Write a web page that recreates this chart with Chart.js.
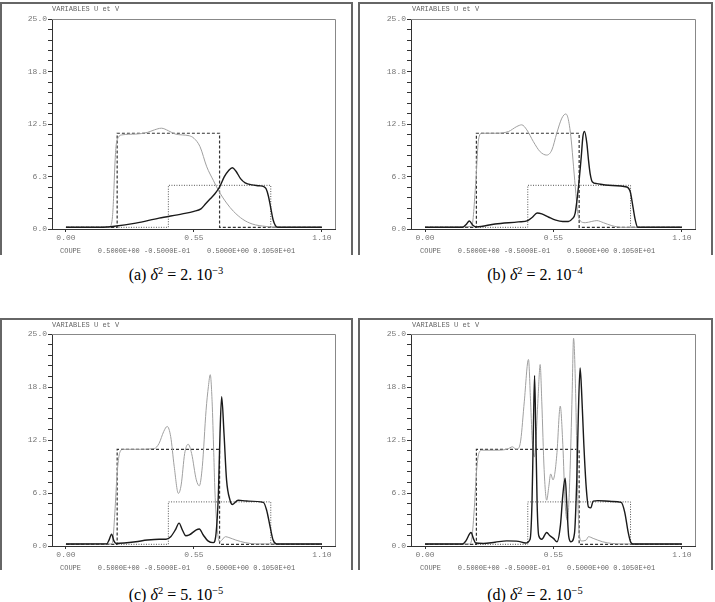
<!DOCTYPE html>
<html>
<head>
<meta charset="utf-8">
<script src="https://cdn.jsdelivr.net/npm/chart.js@4.4.1/dist/chart.umd.min.js"></script>
<style>
  body { margin: 0; background: #fff; width: 715px; height: 602px; position: relative; overflow: hidden; }
  .frame { position: absolute; border: 2px solid #666; border-bottom: none; box-sizing: border-box; }
  .cv { position: absolute; }
  .title, .footer { position: absolute; font-family: "Liberation Mono", monospace; font-size: 7px; color: #666; white-space: pre; }
  .caption { position: absolute; width: 200px; text-align: center; font-family: "Liberation Serif", serif; font-size: 16px; color: #000; line-height: 17px; }
  .caption sup { font-size: 10.5px; line-height: 0; }
</style>
</head>
<body>

<div class="frame" style="left:0;top:2px;width:353px;height:253px"></div>
<div class="frame" style="left:358px;top:2px;width:355px;height:253px"></div>
<div class="frame" style="left:0;top:318px;width:353px;height:252px"></div>
<div class="frame" style="left:358px;top:318px;width:355px;height:252px"></div>

<canvas id="chartA" class="cv" style="left:0;top:0" width="352" height="256"></canvas>
<canvas id="chartB" class="cv" style="left:359px;top:0" width="354" height="256"></canvas>
<canvas id="chartC" class="cv" style="left:0;top:316px" width="352" height="256"></canvas>
<canvas id="chartD" class="cv" style="left:359px;top:316px" width="354" height="256"></canvas>

<div class="title" style="left:52px;top:5px">VARIABLES U et V</div>
<div class="title" style="left:412px;top:5px">VARIABLES U et V</div>
<div class="title" style="left:52px;top:321px">VARIABLES U et V</div>
<div class="title" style="left:412px;top:321px">VARIABLES U et V</div>

<div class="footer" style="left:60px;top:247px">COUPE    0.5000E+00 -0.5000E-01    0.5000E+00 0.1050E+01</div>
<div class="footer" style="left:420px;top:247px">COUPE    0.5000E+00 -0.5000E-01    0.5000E+00 0.1050E+01</div>
<div class="footer" style="left:60px;top:564px">COUPE    0.5000E+00 -0.5000E-01    0.5000E+00 0.1050E+01</div>
<div class="footer" style="left:420px;top:564px">COUPE    0.5000E+00 -0.5000E-01    0.5000E+00 0.1050E+01</div>

<div class="caption" style="left:76px;top:266px">(a) <i>δ</i><sup>2</sup> = 2. 10<sup>−3</sup></div>
<div class="caption" style="left:435px;top:266px">(b) <i>δ</i><sup>2</sup> = 2. 10<sup>−4</sup></div>
<div class="caption" style="left:76px;top:586px">(c) <i>δ</i><sup>2</sup> = 5. 10<sup>−5</sup></div>
<div class="caption" style="left:435px;top:586px">(d) <i>δ</i><sup>2</sup> = 2. 10<sup>−5</sup></div>

<script>
// axis ticks
const xTickValues = [0, 0.55, 1.1];
const yMajorStep = 6.25;

// initial step profiles (same in every panel)
const vRectX = [0, 0.22, 0.66, 1.1];
const vRectY = [0.2, 11.4, 0.2, 0.2];
const uRectX = [0, 0.44, 0.88, 1.1];
const uRectY = [0.2, 5.2, 0.2, 0.2];

// (a) delta^2 = 2e-3
const uA_x = [0, 0.15, 0.18, 0.2, 0.3, 0.4, 0.5, 0.55, 0.58, 0.6, 0.62, 0.64, 0.66, 0.68, 0.7, 0.715, 0.73, 0.75, 0.77, 0.8, 0.83, 0.85, 0.86, 0.87, 0.88, 0.89, 0.9, 0.91, 1.1];
const uA_y = [0.2, 0.2, 0.25, 0.3, 0.7, 1.3, 1.8, 2.1, 2.4, 3.0, 3.6, 4.2, 5.0, 6.2, 7.0, 7.3, 6.9, 6.0, 5.5, 5.25, 5.15, 5.05, 4.8, 3.9, 2.5, 1.1, 0.4, 0.2, 0.2];
const vA_x = [0, 0.18, 0.19, 0.2, 0.205, 0.21, 0.215, 0.225, 0.24, 0.3, 0.35, 0.38, 0.41, 0.44, 0.47, 0.5, 0.53, 0.55, 0.576, 0.605, 0.633, 0.655, 0.69, 0.72, 0.76, 0.8, 0.86, 0.9, 1.1];
const vA_y = [0.2, 0.2, 0.3, 1.5, 4, 7.5, 9.8, 10.9, 11.2, 11.3, 11.5, 11.8, 12.0, 11.7, 11.3, 11.2, 11.1, 10.8, 9.8, 7.4, 5.8, 4.6, 3.1, 2.1, 1.15, 0.6, 0.3, 0.2, 0.2];

// (b) delta^2 = 2e-4
const uB_x = [0, 0.16, 0.175, 0.19, 0.205, 0.22, 0.3, 0.4, 0.44, 0.46, 0.48, 0.5, 0.53, 0.56, 0.59, 0.614, 0.63, 0.643, 0.657, 0.669, 0.676, 0.683, 0.693, 0.7, 0.707, 0.717, 0.736, 0.786, 0.864, 0.879, 0.89, 0.9, 0.911, 1.1];
const uB_y = [0.2, 0.2, 0.5, 0.95, 0.45, 0.25, 0.6, 0.85, 1.0, 1.4, 1.9, 1.8, 1.4, 1.05, 0.9, 0.9, 1.2, 1.9, 5.0, 8.6, 11.0, 11.6, 10.2, 8.2, 6.6, 5.6, 5.4, 5.2, 5.0, 4.4, 2.7, 1.1, 0.2, 0.2];
const vB_x = [0, 0.2, 0.217, 0.229, 0.243, 0.3, 0.357, 0.393, 0.414, 0.436, 0.464, 0.493, 0.521, 0.543, 0.564, 0.586, 0.603, 0.614, 0.626, 0.636, 0.646, 0.654, 0.664, 0.686, 0.714, 0.736, 0.764, 0.8, 0.843, 1.1];
const vB_y = [0.2, 0.3, 5.4, 10.6, 11.4, 11.4, 11.6, 12.2, 12.4, 11.8, 10.4, 9.2, 8.8, 9.4, 11.4, 13.2, 13.7, 13.0, 10.6, 7.4, 4.2, 1.9, 1.0, 0.75, 0.9, 1.0, 0.75, 0.4, 0.2, 0.2];

// (c) delta^2 = 5e-5
const uC_x = [0, 0.175, 0.185, 0.196, 0.206, 0.215, 0.25, 0.3, 0.35, 0.4, 0.43, 0.45, 0.47, 0.486, 0.5, 0.515, 0.53, 0.56, 0.573, 0.59, 0.61, 0.633, 0.645, 0.655, 0.662, 0.669, 0.679, 0.69, 0.705, 0.715, 0.74, 0.776, 0.848, 0.862, 0.877, 0.89, 0.905, 1.1];
const uC_y = [0.24, 0.25, 0.7, 1.4, 0.6, 0.3, 0.35, 0.5, 0.7, 0.8, 0.8, 1.1, 1.9, 2.7, 1.9, 1.2, 1.3, 1.9, 2.0, 1.3, 0.6, 0.4, 1.5, 6.2, 13.3, 17.6, 13.3, 7.8, 5.4, 4.9, 5.4, 5.3, 5.15, 4.25, 2.3, 0.7, 0.24, 0.24];
const vC_x = [0, 0.195, 0.2, 0.21, 0.22, 0.23, 0.245, 0.3, 0.38, 0.4, 0.42, 0.435, 0.45, 0.465, 0.483, 0.495, 0.51, 0.525, 0.54, 0.56, 0.573, 0.586, 0.602, 0.612, 0.62, 0.628, 0.635, 0.64, 0.65, 0.66, 0.67, 0.685, 0.7, 0.73, 0.77, 0.82, 1.1];
const vC_y = [0.24, 0.24, 0.4, 3.9, 8.6, 10.9, 11.4, 11.4, 11.5, 12.1, 13.5, 14.1, 12.9, 9.4, 6.2, 7.2, 10.9, 12.0, 10.9, 7.8, 7.1, 9.4, 16.0, 18.8, 20.2, 17.0, 11.0, 6.5, 2.0, 0.5, 0.7, 1.1, 1.0, 0.7, 0.4, 0.24, 0.24];

// (d) delta^2 = 2e-5
const uD_x = [0, 0.16, 0.175, 0.197, 0.207, 0.217, 0.25, 0.3, 0.35, 0.4, 0.43, 0.45, 0.458, 0.463, 0.469, 0.474, 0.48, 0.487, 0.5, 0.521, 0.535, 0.55, 0.565, 0.58, 0.59, 0.6, 0.607, 0.615, 0.625, 0.64, 0.65, 0.657, 0.664, 0.67, 0.68, 0.69, 0.7, 0.71, 0.72, 0.74, 0.8, 0.84, 0.855, 0.87, 0.88, 0.89, 1.1];
const uD_y = [0.24, 0.24, 0.6, 1.6, 0.9, 0.35, 0.3, 0.45, 0.6, 0.55, 0.35, 0.8, 5, 12, 20.1, 14, 5, 1.2, 0.8, 1.6, 1.2, 0.9, 0.5, 2.5, 6, 8.0, 5, 1.2, 0.5, 1.5, 8, 16, 21.0, 18.5, 12, 7, 4.6, 4.5, 5.3, 5.35, 5.25, 5.15, 4.0, 1.6, 0.5, 0.24, 0.24];
const vD_x = [0, 0.19, 0.2, 0.21, 0.22, 0.23, 0.245, 0.3, 0.35, 0.375, 0.39, 0.4, 0.41, 0.425, 0.443, 0.452, 0.46, 0.468, 0.476, 0.485, 0.493, 0.5, 0.51, 0.521, 0.53, 0.538, 0.548, 0.556, 0.565, 0.579, 0.59, 0.6, 0.61, 0.62, 0.63, 0.636, 0.645, 0.652, 0.66, 0.67, 0.69, 0.7, 0.72, 0.76, 0.8, 0.85, 1.1];
const vD_y = [0.24, 0.24, 0.8, 4, 8.6, 10.9, 11.3, 11.3, 11.4, 11.7, 11.4, 11.5, 12.5, 17, 22.0, 17, 12, 10.5, 13, 18, 21.4, 17, 9, 5.4, 7, 8.5, 7.8, 8.6, 11, 16.5, 12, 5, 3, 8, 18, 24.5, 18, 8, 1.5, 0.6, 0.7, 1.1, 0.9, 0.5, 0.3, 0.24, 0.24];

function pts(xs, ys) {
  return xs.map((x, i) => ({ x: x, y: ys[i] }));
}

// top and right edges of the plot box
const plotBox = {
  id: 'plotBox',
  afterDraw(chart) {
    const a = chart.chartArea;
    const ctx = chart.ctx;
    ctx.save();
    ctx.strokeStyle = '#888';
    ctx.lineWidth = 1;
    ctx.beginPath();
    ctx.moveTo(a.left, a.top + 0.5);
    ctx.lineTo(a.right + 0.5, a.top + 0.5);
    ctx.lineTo(a.right + 0.5, a.bottom);
    ctx.stroke();
    ctx.restore();
  }
};

const tickFont = { family: 'Liberation Mono', size: 8 };

function makePanel(id, ux, uy, vx, vy, pad) {
  new Chart(document.getElementById(id), {
    type: 'line',
    data: {
      datasets: [
        { data: pts(ux, uy), borderColor: '#1a1a1a', borderWidth: 1.4, cubicInterpolationMode: 'monotone' },
        { data: pts(vx, vy), borderColor: '#a0a0a0', borderWidth: 1, cubicInterpolationMode: 'monotone' },
        { data: pts(vRectX, vRectY), borderColor: '#333', borderWidth: 1.2, borderDash: [3, 2], stepped: 'before' },
        { data: pts(uRectX, uRectY), borderColor: '#555', borderWidth: 1, borderDash: [1, 1.5], stepped: 'before' }
      ]
    },
    options: {
      responsive: false,
      animation: false,
      events: [],
      layout: { padding: pad },
      elements: { point: { radius: 0 } },
      plugins: { legend: { display: false }, tooltip: { enabled: false } },
      scales: {
        x: {
          type: 'linear',
          min: -0.06,
          max: 1.156,
          afterBuildTicks: s => { s.ticks = xTickValues.map(v => ({ value: v })); },
          afterFit: s => { s.height = 14; },
          grid: { drawOnChartArea: false, tickLength: 3, color: '#333' },
          border: { color: '#333' },
          ticks: {
            autoSkip: false, maxRotation: 0, padding: 1, color: '#777', font: tickFont,
            callback: v => v.toFixed(2)
          }
        },
        y: {
          min: 0,
          max: 25,
          afterFit: s => { s.width = 44; },
          grid: { drawOnChartArea: false, tickLength: 4, color: '#333' },
          border: { color: '#333' },
          ticks: {
            stepSize: 1.25, autoSkip: false, padding: 1, color: '#777', font: tickFont,
            callback: v => (v % yMajorStep === 0 ? v.toFixed(1) : '')
          }
        }
      }
    },
    plugins: [plotBox]
  });
}

makePanel('chartA', uA_x, uA_y, vA_x, vA_y, { left: 8, top: 19, right: 17, bottom: 13 });
makePanel('chartB', uB_x, uB_y, vB_x, vB_y, { left: 8, top: 19, right: 18, bottom: 13 });
makePanel('chartC', uC_x, uC_y, vC_x, vC_y, { left: 8, top: 18, right: 17, bottom: 12 });
makePanel('chartD', uD_x, uD_y, vD_x, vD_y, { left: 8, top: 18, right: 18, bottom: 12 });
</script>
</body>
</html>
